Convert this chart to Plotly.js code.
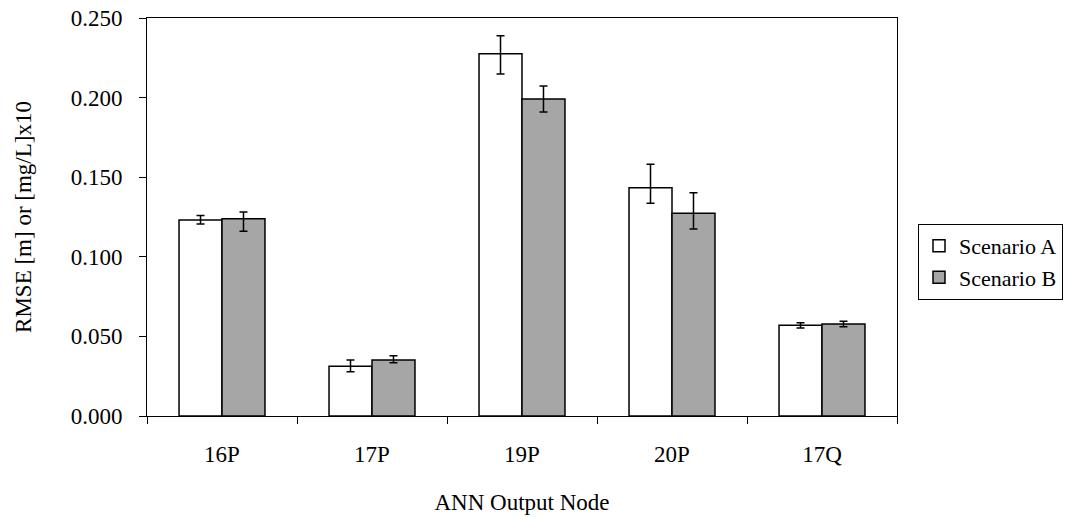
<!DOCTYPE html>
<html>
<head>
<meta charset="utf-8">
<script src="https://cdn.plot.ly/plotly-3.0.1.min.js"></script>
<style>html,body{margin:0;padding:0;background:#fff;}#chart{width:1069px;height:517px;}</style>
</head>
<body>
<div id="chart"></div>
<script>
var categories = ["16P", "17P", "19P", "20P", "17Q"];
var scenarioA = [0.1231, 0.0312, 0.2276, 0.1434, 0.0570];
var scenarioAErrUp = [0.0028, 0.0040, 0.0113, 0.0147, 0.0016];
var scenarioAErrDown = [0.0025, 0.0034, 0.0128, 0.0098, 0.0017];
var scenarioB = [0.1239, 0.0352, 0.1991, 0.1273, 0.0578];
var scenarioBErrUp = [0.0042, 0.0027, 0.0082, 0.0130, 0.0017];
var scenarioBErrDown = [0.0079, 0.0017, 0.0082, 0.0098, 0.0017];
var yTicks = [0, 0.05, 0.1, 0.15, 0.2, 0.25];

var fontFam = "Liberation Serif";
var fs = 23;

function errObj(up, down) {
  return {type: "data", symmetric: false, array: up, arrayminus: down,
          color: "#000", thickness: 1.5, width: 4, visible: true};
}

var traces = [
  {type: "bar", name: "Scenario A", x: categories, y: scenarioA,
   marker: {color: "#ffffff", line: {color: "#000", width: 1.5}},
   error_y: errObj(scenarioAErrUp, scenarioAErrDown)},
  {type: "bar", name: "Scenario B", x: categories, y: scenarioB,
   marker: {color: "#a6a6a6", line: {color: "#000", width: 1.5}},
   error_y: errObj(scenarioBErrUp, scenarioBErrDown)}
];

var layout = {
  width: 1069, height: 517,
  margin: {l: 147, r: 172, t: 18, b: 101, pad: 0, autoexpand: false},
  paper_bgcolor: "#fff", plot_bgcolor: "#fff",
  font: {family: fontFam, size: fs, color: "#000"},
  barmode: "group", bargap: 0.427, bargroupgap: 0,
  showlegend: true,
  legend: {x: 1.028, xanchor: "left", y: 0.387, yanchor: "middle",
           bordercolor: "#000", borderwidth: 1, bgcolor: "#fff",
           font: {family: fontFam, size: 22, color: "#000"},
           itemwidth: 30, tracegroupgap: 10},
  xaxis: {type: "category", tickson: "boundaries", ticks: "outside", ticklen: 7,
          tickcolor: "#000", tickwidth: 1, showline: true, linecolor: "#000", linewidth: 1,
          mirror: true, showgrid: false, zeroline: false, ticklabelstandoff: 17,
          tickfont: {family: fontFam, size: fs, color: "#000"},
          title: {text: "ANN Output Node", standoff: 28, font: {family: fontFam, size: fs, color: "#000"}}},
  yaxis: {range: [0, 0.25], tickvals: yTicks, tickformat: ".3f", ticks: "outside", ticklen: 7,
          tickcolor: "#000", tickwidth: 1, showline: true, linecolor: "#000", linewidth: 1,
          mirror: true, showgrid: false, zeroline: false, ticklabelstandoff: 12,
          tickfont: {family: fontFam, size: fs, color: "#000"},
          title: {text: "RMSE [m] or [mg/L]x10", standoff: 32, font: {family: fontFam, size: fs, color: "#000"}}}
};

Plotly.newPlot("chart", traces, layout, {displayModeBar: false, staticPlot: true});
</script>
</body>
</html>
